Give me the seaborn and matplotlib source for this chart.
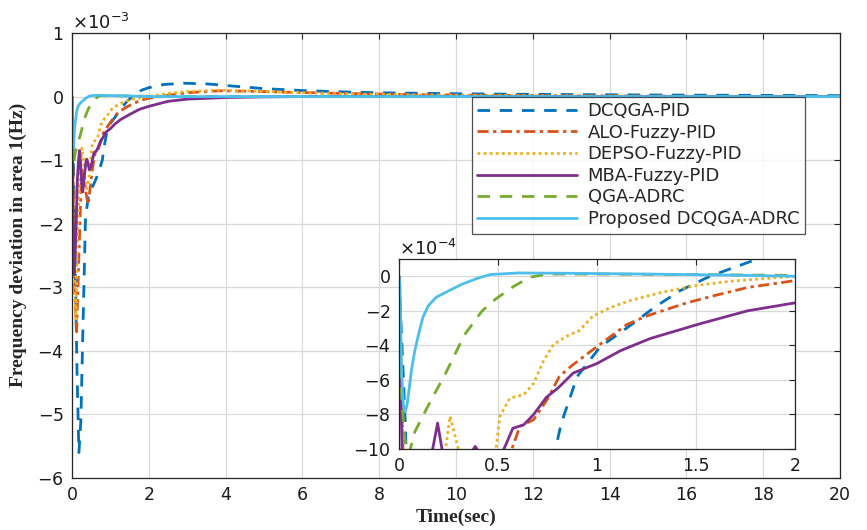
import numpy as np
import pandas as pd
import matplotlib
matplotlib.use("Agg")
import matplotlib.pyplot as plt
import seaborn as sns
from matplotlib.ticker import ScalarFormatter

# ---------------- data (frequency deviation values in units of 1e-4 Hz) ----------------
series_names = ["DCQGA-PID", "ALO-Fuzzy-PID", "DEPSO-Fuzzy-PID",
                "MBA-Fuzzy-PID", "QGA-ADRC", "Proposed DCQGA-ADRC"]

t_dcqga_pid = [0, 0.03, 0.08, 0.13, 0.18, 0.23, 0.29, 0.35, 0.38, 0.43, 0.58, 0.67, 0.79,
               0.82, 0.9, 1.015, 1.18, 1.29, 1.42, 1.57, 1.81, 2.0, 2.4, 2.9, 3.5, 4.2,
               5.0, 6.0, 7.0, 8.0, 10, 12, 15, 20]
v_dcqga_pid = [0, -8, -25, -43, -56, -51, -35, -19.5, -17.8, -15.5, -13.6, -12.3, -10,
               -8.5, -5.8, -4.1, -2.75, -1.8, -0.83, 0, 1.0, 1.4, 1.9, 2.1, 2.0, 1.65,
               1.25, 0.95, 0.75, 0.6, 0.45, 0.35, 0.25, 0.15]

t_alo = [0, 0.03, 0.07, 0.12, 0.18, 0.25, 0.31, 0.36, 0.42, 0.48, 0.53, 0.57, 0.61, 0.68,
         0.75, 0.81, 0.87, 0.95, 1.02, 1.15, 1.25, 1.45, 1.6, 1.76, 2.0, 2.5, 3.0, 3.8,
         4.5, 5.5, 7, 9, 12, 16, 20]
v_alo = [0, -15, -30, -37, -25, -11.5, -12.5, -15, -17, -14, -11.5, -10, -8.7, -8.3,
         -7.1, -5.8, -5.2, -4.5, -3.9, -2.8, -2.3, -1.55, -1.1, -0.65, -0.25, 0.2, 0.6,
         0.9, 0.85, 0.7, 0.5, 0.3, 0.15, 0.05, 0]

t_depso = [0, 0.03, 0.06, 0.1, 0.15, 0.2, 0.235, 0.258, 0.3, 0.33, 0.38, 0.44, 0.49,
           0.51, 0.56, 0.63, 0.68, 0.73, 0.78, 0.85, 0.91, 0.98, 1.07, 1.17, 1.33, 1.5,
           1.67, 2.0, 2.5, 3.0, 3.8, 4.5, 5.5, 7, 9, 12, 16, 20]
v_depso = [0, -14, -28, -35, -21, -13, -10, -8.1, -10, -12.5, -14.5, -13, -10,
           -8.1, -7.05, -6.85, -6.2, -4.9, -3.95, -3.45, -3.15, -2.3, -1.8, -1.4, -0.92,
           -0.54, -0.29, 0.0, 0.5, 0.8, 1.0, 0.9, 0.7, 0.45, 0.25, 0.1, 0.03, 0]

t_mba = [0, 0.015, 0.04, 0.06, 0.1, 0.14, 0.17, 0.195, 0.217, 0.25, 0.28, 0.33, 0.365,
         0.385, 0.405, 0.45, 0.5, 0.53, 0.575, 0.63, 0.68, 0.745, 0.805, 0.88, 1.0, 1.12,
         1.27, 1.52, 1.76, 2.0, 2.5, 3.0, 4.0, 5.0, 6, 20]
v_mba = [0, -10, -24, -28, -22, -13, -10, -8.5, -10, -13.5, -15, -12, -10.2, -9.85,
         -10.2, -11.5, -11, -10, -8.8, -8.6, -8.0, -7.0, -6.45, -5.6, -5.05, -4.3, -3.6,
         -2.75, -2.0, -1.54, -0.75, -0.4, -0.15, -0.05, 0, 0]

t_qga = [0, 0.013, 0.03, 0.05, 0.08, 0.165, 0.232, 0.33, 0.42, 0.49, 0.577, 0.66, 0.75,
         1.0, 1.5, 2.0, 3, 20]
v_qga = [0, -7.0, -9.5, -10.3, -9.0, -7.1, -5.7, -3.4, -2.0, -1.3, -0.6, -0.06, 0.13,
         0.13, 0.1, 0.05, 0.02, 0]

t_prop = [0, 0.005, 0.013, 0.022, 0.03, 0.04, 0.047, 0.064, 0.08, 0.098, 0.12, 0.148,
          0.19, 0.25, 0.32, 0.4, 0.46, 0.6, 0.9, 1.3, 1.6, 2.0, 20]
v_prop = [0, -0.5, -5.6, -7.4, -7.85, -7.5, -6.9, -5.35, -4.3, -3.4, -2.4, -1.7,
          -1.2, -0.85, -0.45, -0.1, 0.1, 0.19, 0.17, 0.12, 0.08, 0.0, 0]

main_xticks = [0, 2, 4, 6, 8, 10, 12, 14, 16, 18, 20]
main_yticks = [1, 0, -1, -2, -3, -4, -5, -6]          # x 1e-3
inset_xticks = [0, 0.5, 1, 1.5, 2]
inset_yticks = [0, -2, -4, -6, -8, -10]                # x 1e-4

# ---------------- build long-form table ----------------
all_t = [t_dcqga_pid, t_alo, t_depso, t_mba, t_qga, t_prop]
all_v = [v_dcqga_pid, v_alo, v_depso, v_mba, v_qga, v_prop]
frames = []
for name, tt, vv in zip(series_names, all_t, all_v):
    frames.append(pd.DataFrame({"t": tt, "v": np.array(vv) * 1e-4, "series": name}))
df = pd.concat(frames, ignore_index=True)

palette = {"DCQGA-PID": "#0072BD", "ALO-Fuzzy-PID": "#D95319",
           "DEPSO-Fuzzy-PID": "#EDB120", "MBA-Fuzzy-PID": "#7E2F8E",
           "QGA-ADRC": "#77AC30", "Proposed DCQGA-ADRC": "#4DBEEE"}
dashes = {"DCQGA-PID": (4.5, 3.5), "ALO-Fuzzy-PID": (4, 1.6, 1.2, 1.6),
          "DEPSO-Fuzzy-PID": (1, 1.2), "MBA-Fuzzy-PID": "",
          "QGA-ADRC": (4.5, 3.5), "Proposed DCQGA-ADRC": ""}

sns.set_style("white")
plt.rcParams["font.family"] = ["DejaVu Sans"]
plt.rcParams["axes.unicode_minus"] = False
plt.rcParams["mathtext.fontset"] = "dejavusans"

fig = plt.figure(figsize=(8.67, 5.30), dpi=100)
ax = fig.add_axes([72 / 867, 1 - 478 / 530, 768 / 867, 445 / 530])


def style_axes(a, fs=12.5):
    a.grid(True, color="#d9d9d9", lw=0.9)
    a.set_axisbelow(True)
    for s in a.spines.values():
        s.set_visible(True)
        s.set_color("#262626")
        s.set_linewidth(0.9)
    a.tick_params(direction="in", top=True, right=True, length=4, width=0.8,
                  labelsize=fs, colors="#262626", labelcolor="#1a1a1a")
    a.tick_params(axis="y", pad=6)
    a.tick_params(axis="x", pad=6)


def draw(a):
    sns.lineplot(data=df, x="t", y="v", hue="series", style="series",
                 hue_order=series_names, style_order=series_names,
                 palette=palette, dashes=dashes, estimator=None, sort=False,
                 lw=2.0, ax=a, legend=False)
    a.set_xlabel("")
    a.set_ylabel("")


draw(ax)
style_axes(ax)
ax.set_xlim(0, 20)
ax.set_ylim(-6e-3, 1e-3)
ax.set_xticks(main_xticks)
ax.set_yticks([y * 1e-3 for y in main_yticks])
fmt = ScalarFormatter(useMathText=True)
fmt.set_powerlimits((-3, -3))
ax.yaxis.set_major_formatter(fmt)
ax.yaxis.get_offset_text().set_fontsize(13)

ax.set_xlabel("Time(sec)", family="Liberation Serif", fontweight="bold", fontsize=14,
              labelpad=3)
ax.set_ylabel("Frequency deviation in area 1(Hz)", family="Liberation Serif",
              fontweight="bold", fontsize=14)
ax.yaxis.set_label_coords(-0.058, 0.524)

leg = ax.legend(ax.lines[:6], series_names, loc="upper right",
                bbox_to_anchor=(0.954, 0.857), fontsize=13, frameon=True,
                fancybox=False, edgecolor="#262626", handlelength=5.5,
                handletextpad=0.6, labelspacing=0.2, borderpad=0.3,
                borderaxespad=0)
leg.get_frame().set_linewidth(0.9)

# ---------------- inset ----------------
axin = fig.add_axes([399 / 867, 1 - 449 / 530, 396 / 867, 190 / 530])
axin.set_facecolor("white")
draw(axin)
style_axes(axin)
axin.set_xlim(0, 2)
axin.set_ylim(-10e-4, 1e-4)
axin.set_xticks(inset_xticks)
axin.set_xticklabels(["0", "0.5", "1", "1.5", "2"])
axin.set_yticks([y * 1e-4 for y in inset_yticks])
fmt2 = ScalarFormatter(useMathText=True)
fmt2.set_powerlimits((-4, -4))
axin.yaxis.set_major_formatter(fmt2)
axin.yaxis.get_offset_text().set_fontsize(13)

fig.savefig("out.png", dpi=100)
